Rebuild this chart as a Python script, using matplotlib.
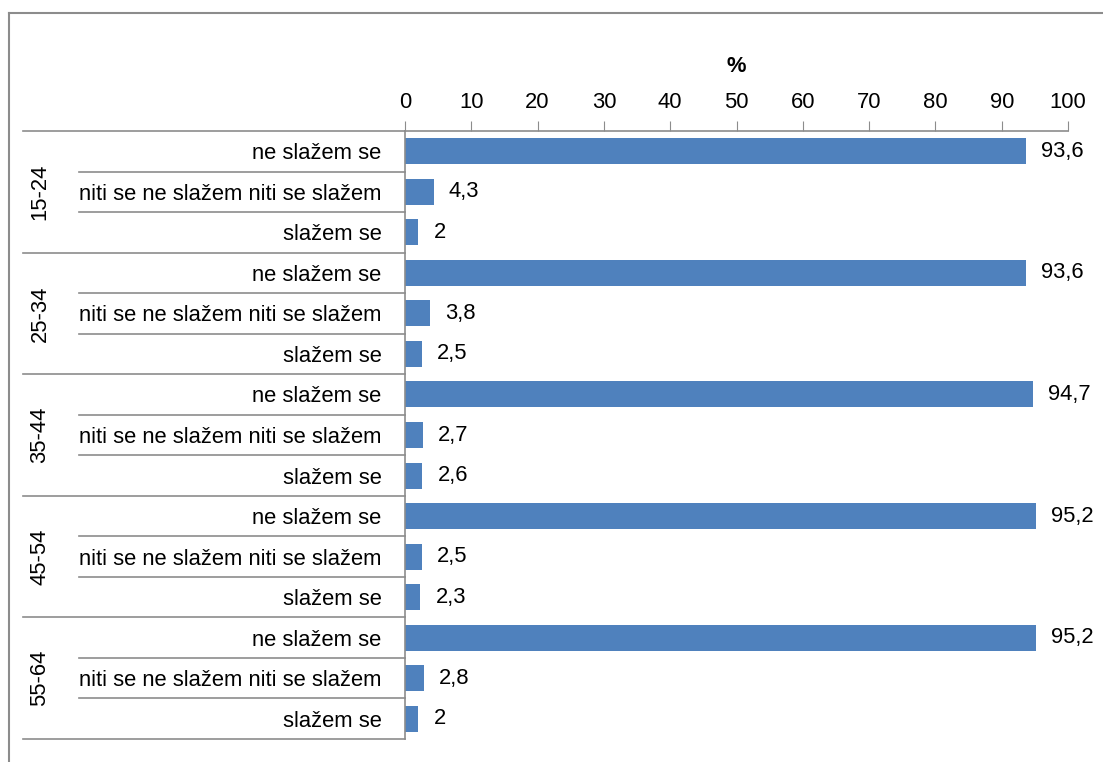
import matplotlib.pyplot as plt
from matplotlib.lines import Line2D
from matplotlib.transforms import blended_transform_factory

plt.rcParams["font.family"] = ["Liberation Sans", "DejaVu Sans"]

age_groups = ["15-24", "25-34", "35-44", "45-54", "55-64"]
answers = ["ne slažem se", "niti se ne slažem niti se slažem", "slažem se"]
values = [
    [93.6, 4.3, 2.0],
    [93.6, 3.8, 2.5],
    [94.7, 2.7, 2.6],
    [95.2, 2.5, 2.3],
    [95.2, 2.8, 2.0],
]
x_ticks = [0, 10, 20, 30, 40, 50, 60, 70, 80, 90, 100]

W, H = 1103, 762
fig = plt.figure(figsize=(W / 100, H / 100), dpi=100)
ax = fig.add_axes([405 / W, 23 / H, 663 / W, 608 / H])

bar_color = "#4F81BD"
line_color = "#8C8C8C"
fs = 15.8

rows = []
labels = []
for g, vals in zip(age_groups, values):
    for a, v in zip(answers, vals):
        rows.append(v)
        labels.append(a)
ypos = list(range(len(rows)))

ax.barh(ypos, rows, height=0.64, color=bar_color)
for y, v in zip(ypos, rows):
    txt = f"{v:g}".replace(".", ",")
    ax.annotate(txt, (v, y), xytext=(11, 0), textcoords="offset points",
                ha="left", va="center", fontsize=fs)

ax.set_xlim(0, 100)
ax.set_ylim(len(rows) - 0.5, -0.5)
ax.xaxis.tick_top()
ax.xaxis.set_label_position("top")
ax.set_xticks(x_ticks)
ax.tick_params(axis="x", length=7, color=line_color, labelsize=fs, pad=6)
ax.set_xlabel("%", fontsize=fs, fontweight="bold", labelpad=14)
ax.set_yticks(ypos)
ax.set_yticklabels(labels, fontsize=fs)
ax.tick_params(axis="y", length=0, pad=17)
for s in ["right", "bottom"]:
    ax.spines[s].set_visible(False)
for s in ["left", "top"]:
    ax.spines[s].set_color(line_color)
    ax.spines[s].set_linewidth(1.2)

# category separator lines on the left
tr = blended_transform_factory(fig.transFigure, ax.transData)
x_axis = 405 / W
for i in range(len(rows) + 1):
    y = i - 0.5
    x0 = 23 / W if i % 3 == 0 else 79 / W
    ax.add_line(Line2D([x0, x_axis], [y, y], transform=tr, color=line_color,
                       lw=1.2, clip_on=False))

for k, g in enumerate(age_groups):
    ax.text(40 / W, 3 * k + 1, g, transform=tr, rotation=90, ha="center",
            va="center", fontsize=fs)

# outer frame (top and left only)
fig.add_artist(Line2D([9 / W, 1103 / W], [1 - 13 / H, 1 - 13 / H],
                      transform=fig.transFigure, color=line_color, lw=1.5))
fig.add_artist(Line2D([9 / W, 9 / W], [0, 1 - 13 / H],
                      transform=fig.transFigure, color=line_color, lw=1.5))

fig.savefig("out.png", dpi=100)
